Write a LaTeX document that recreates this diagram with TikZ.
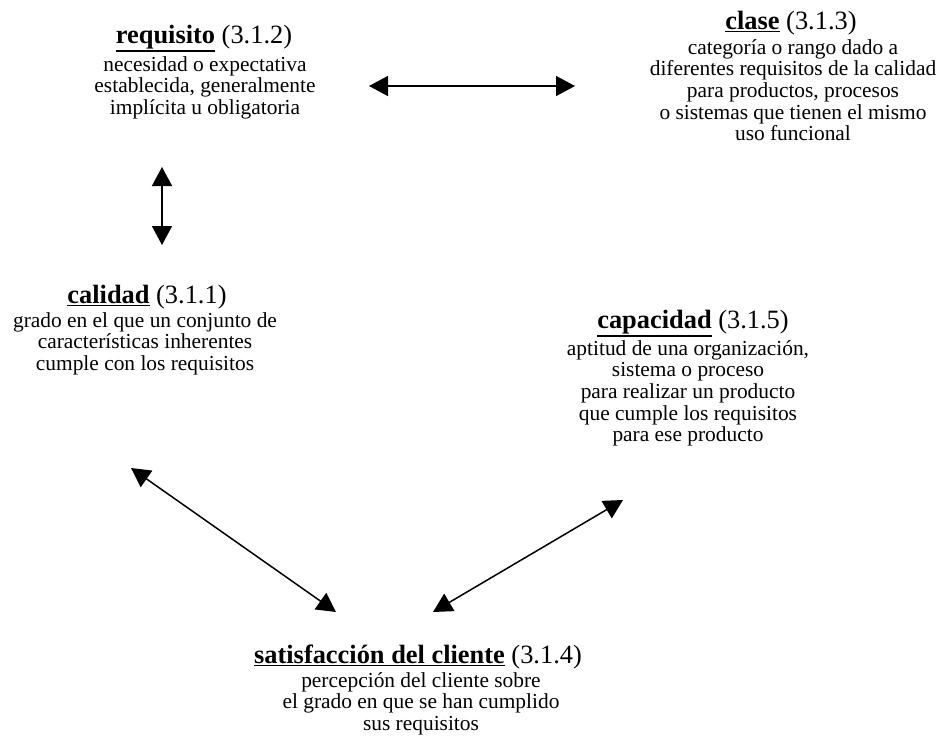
\documentclass[tikz,border=0pt]{standalone}
\usepackage{fontspec}
\setmainfont{Liberation Serif}
\usetikzlibrary{arrows.meta}
\newcommand\myul[1]{\setbox0\hbox{#1}\rlap{\rule[-\dimexpr\dp0+3.2pt\relax]{\wd0}{1.7pt}}\box0}
\newcommand\ttl[2]{\myul{\textbf{#1}}~(#2)}
\tikzset{
  titlenode/.style={anchor=base, inner sep=0pt, font=\fontsize{26.4}{30}\selectfont},
  bodynode/.style={anchor=north, inner sep=0pt, align=center, font=\fontsize{21.4}{21.7}\selectfont},
  dbl/.style={line width=1.5pt, {Triangle[length=19pt,width=20pt]}-{Triangle[length=19pt,width=20pt]}}
}
\begin{document}
\begin{tikzpicture}[x=1pt,y=-1pt]
\useasboundingbox (0,0) rectangle (940,747);
% requisito
\node[titlenode] (reqT) at (204,43) {\ttl{requisito}{3.1.2}};
\node[bodynode] (reqB) at (205,71-15.2) {\strut necesidad o expectativa\\establecida, generalmente\\implícita u obligatoria};
% clase
\node[titlenode] (claT) at (791,29) {\ttl{clase}{3.1.3}};
\node[bodynode] (claB) at (793,54-15.2) {\strut categoría o rango dado a\\diferentes requisitos de la calidad\\para productos, procesos\\o sistemas que tienen el mismo\\uso funcional};
% calidad
\node[titlenode] (calT) at (147,303) {\ttl{calidad}{3.1.1}};
\node[bodynode] (calB) at (145,327-15.2) {\strut grado en el que un conjunto de\\características inherentes\\cumple con los requisitos};
% capacidad
\node[titlenode] (capT) at (693,328) {\ttl{capacidad}{3.1.5}};
\node[bodynode] (capB) at (688,355-15.2) {\strut aptitud de una organización,\\sistema o proceso\\para realizar un producto\\que cumple los requisitos\\para ese producto};
% satisfaccion
\node[titlenode] (satT) at (418,663) {\ttl{satisfacción del cliente}{3.1.4}};
\node[bodynode] (satB) at (421,687-15.2) {\strut percepción del cliente sobre\\el grado en que se han cumplido\\sus requisitos};
% arrow ends
\coordinate (h1) at (369,86);
\coordinate (h2) at (575,86);
\coordinate (v1) at (162,167);
\coordinate (v2) at (162,245);
\coordinate (d1) at (131,468);
\coordinate (d2) at (336,612);
\coordinate (e1) at (623,500);
\coordinate (e2) at (433,612);
\draw[dbl] (h1) -- (h2);
\draw[dbl] (v1) -- (v2);
\draw[dbl] (d1) -- (d2);
\draw[dbl] (e1) -- (e2);
\end{tikzpicture}
\end{document}
